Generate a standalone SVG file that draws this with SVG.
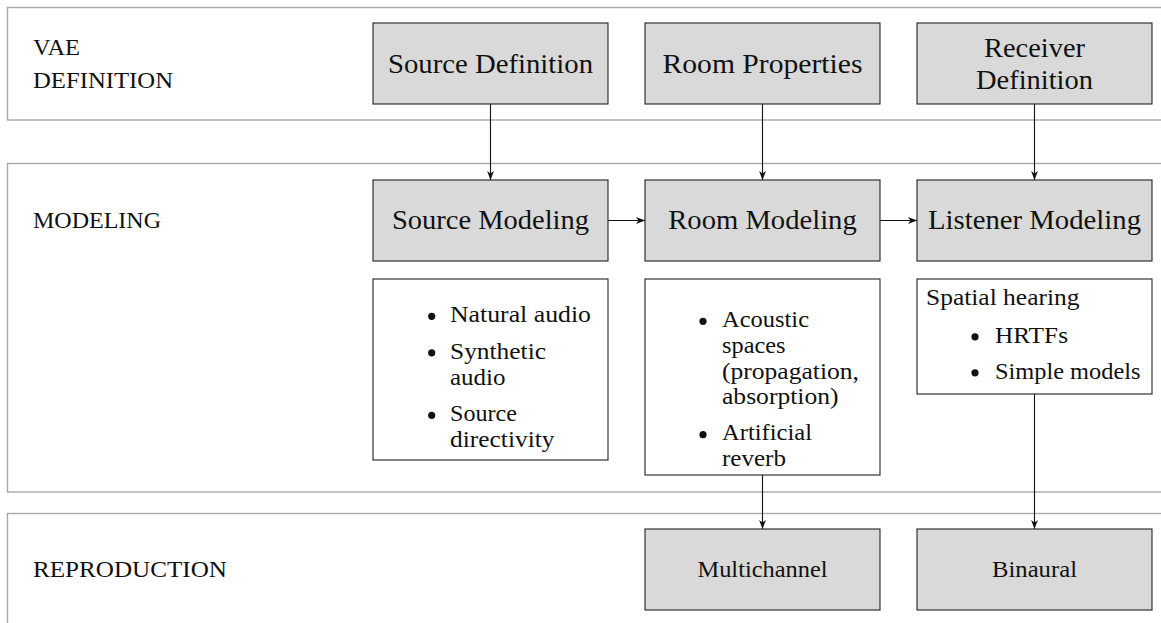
<svg xmlns="http://www.w3.org/2000/svg" width="1161" height="623" viewBox="0 0 1161 623">
  <style>
    .band { fill: #ffffff; stroke: #a8a8a8; stroke-width: 1.4; }
    .box { fill: #d9d9d9; stroke: #222222; stroke-width: 1.1; }
    .list { fill: #ffffff; stroke: #222222; stroke-width: 1.1; }
    text { font-family: "Liberation Serif", "DejaVu Serif", serif; fill: #111111; }
    .lbl { font-size: 28px; text-anchor: middle; }
    .sm { font-size: 23px; }
    .smc { font-size: 23px; text-anchor: middle; }
    .dot { fill: #111111; }
    .edge { fill: none; stroke: #111111; stroke-width: 1.1; marker-end: url(#tip); }
  </style>
  <defs>
    <marker id="tip" markerUnits="userSpaceOnUse" viewBox="-10 -5 10 10" refX="0" refY="0" markerWidth="10" markerHeight="10" orient="auto">
      <path d="M0,0 L-9,-3.4 L-6.5,0 L-9,3.4 Z" fill="#111111"/>
    </marker>
  </defs>

  <!-- layer bands -->
  <g id="band-definition">
    <rect class="band" x="7.5" y="7.5" width="1170" height="112.5"/>
    <text class="sm" x="33" y="55" textLength="47" lengthAdjust="spacingAndGlyphs">VAE</text>
    <text class="sm" x="33" y="88" textLength="140" lengthAdjust="spacingAndGlyphs">DEFINITION</text>
  </g>
  <g id="band-modeling">
    <rect class="band" x="7.5" y="163.5" width="1170" height="328.5"/>
    <text class="sm" x="33" y="228" textLength="128" lengthAdjust="spacingAndGlyphs">MODELING</text>
  </g>
  <g id="band-reproduction">
    <rect class="band" x="7.5" y="513.5" width="1170" height="130"/>
    <text class="sm" x="33" y="577" textLength="194" lengthAdjust="spacingAndGlyphs">REPRODUCTION</text>
  </g>

  <!-- definition row -->
  <g id="source-definition">
    <rect class="box" x="373" y="23" width="235" height="81"/>
    <text class="lbl" x="490.5" y="72.5" textLength="205" lengthAdjust="spacingAndGlyphs">Source Definition</text>
  </g>
  <g id="room-properties">
    <rect class="box" x="645" y="23" width="235" height="81"/>
    <text class="lbl" x="762.5" y="72.5" textLength="200" lengthAdjust="spacingAndGlyphs">Room Properties</text>
  </g>
  <g id="receiver-definition">
    <rect class="box" x="917" y="23" width="235" height="81"/>
    <text class="lbl" x="1034.5" y="57.3" textLength="101" lengthAdjust="spacingAndGlyphs">Receiver</text>
    <text class="lbl" x="1034.5" y="89.3" textLength="117" lengthAdjust="spacingAndGlyphs">Definition</text>
  </g>

  <!-- modeling row -->
  <g id="source-modeling">
    <rect class="box" x="373" y="180" width="235" height="81"/>
    <text class="lbl" x="490.5" y="229" textLength="197" lengthAdjust="spacingAndGlyphs">Source Modeling</text>
  </g>
  <g id="room-modeling">
    <rect class="box" x="645" y="180" width="235" height="81"/>
    <text class="lbl" x="762.5" y="229" textLength="188.5" lengthAdjust="spacingAndGlyphs">Room Modeling</text>
  </g>
  <g id="listener-modeling">
    <rect class="box" x="917" y="180" width="235" height="81"/>
    <text class="lbl" x="1034.5" y="229" textLength="213" lengthAdjust="spacingAndGlyphs">Listener Modeling</text>
  </g>

  <!-- detail lists -->
  <g id="source-details">
    <rect class="list" x="373" y="279" width="235" height="181"/>
    <circle class="dot" cx="431.7" cy="316.3" r="3.6"/>
    <text class="sm" x="450" y="322" textLength="141" lengthAdjust="spacingAndGlyphs">Natural audio</text>
    <circle class="dot" cx="431.7" cy="352.8" r="3.6"/>
    <text class="sm" x="450" y="358.5" textLength="96" lengthAdjust="spacingAndGlyphs">Synthetic</text>
    <text class="sm" x="450" y="384.5" textLength="55.5" lengthAdjust="spacingAndGlyphs">audio</text>
    <circle class="dot" cx="431.7" cy="415.3" r="3.6"/>
    <text class="sm" x="450" y="421" textLength="67" lengthAdjust="spacingAndGlyphs">Source</text>
    <text class="sm" x="450" y="447" textLength="104.5" lengthAdjust="spacingAndGlyphs">directivity</text>
  </g>
  <g id="room-details">
    <rect class="list" x="645" y="279" width="235" height="196"/>
    <circle class="dot" cx="703" cy="321.3" r="3.6"/>
    <text class="sm" x="722" y="327" textLength="87" lengthAdjust="spacingAndGlyphs">Acoustic</text>
    <text class="sm" x="722" y="352.8" textLength="63.5" lengthAdjust="spacingAndGlyphs">spaces</text>
    <text class="sm" x="722" y="378.6" textLength="137" lengthAdjust="spacingAndGlyphs">(propagation,</text>
    <text class="sm" x="722" y="404.4" textLength="116.5" lengthAdjust="spacingAndGlyphs">absorption)</text>
    <circle class="dot" cx="703" cy="434.7" r="3.6"/>
    <text class="sm" x="722" y="440.4" textLength="90" lengthAdjust="spacingAndGlyphs">Artificial</text>
    <text class="sm" x="722" y="466.2" textLength="64" lengthAdjust="spacingAndGlyphs">reverb</text>
  </g>
  <g id="listener-details">
    <rect class="list" x="917" y="279" width="235" height="115"/>
    <text class="sm" x="926" y="305" textLength="153.5" lengthAdjust="spacingAndGlyphs">Spatial hearing</text>
    <circle class="dot" cx="975" cy="336.8" r="3.6"/>
    <text class="sm" x="995" y="342.5" textLength="73" lengthAdjust="spacingAndGlyphs">HRTFs</text>
    <circle class="dot" cx="975" cy="372.8" r="3.6"/>
    <text class="sm" x="995" y="378.5" textLength="145.5" lengthAdjust="spacingAndGlyphs">Simple models</text>
  </g>

  <!-- reproduction row -->
  <g id="multichannel">
    <rect class="box" x="645" y="529" width="235" height="81"/>
    <text class="smc" x="762.5" y="577" textLength="130" lengthAdjust="spacingAndGlyphs">Multichannel</text>
  </g>
  <g id="binaural">
    <rect class="box" x="917" y="529" width="235" height="81"/>
    <text class="smc" x="1034.5" y="577" textLength="85" lengthAdjust="spacingAndGlyphs">Binaural</text>
  </g>

  <!-- connectors -->
  <g id="connectors">
    <path class="edge" d="M490.5,104 L490.5,180"/>
    <path class="edge" d="M762.5,104 L762.5,180"/>
    <path class="edge" d="M1034.5,104 L1034.5,180"/>
    <path class="edge" d="M608,220.5 L645,220.5"/>
    <path class="edge" d="M880,220.5 L917,220.5"/>
    <path class="edge" d="M762.5,475 L762.5,529"/>
    <path class="edge" d="M1034.5,394 L1034.5,529"/>
  </g>
</svg>
